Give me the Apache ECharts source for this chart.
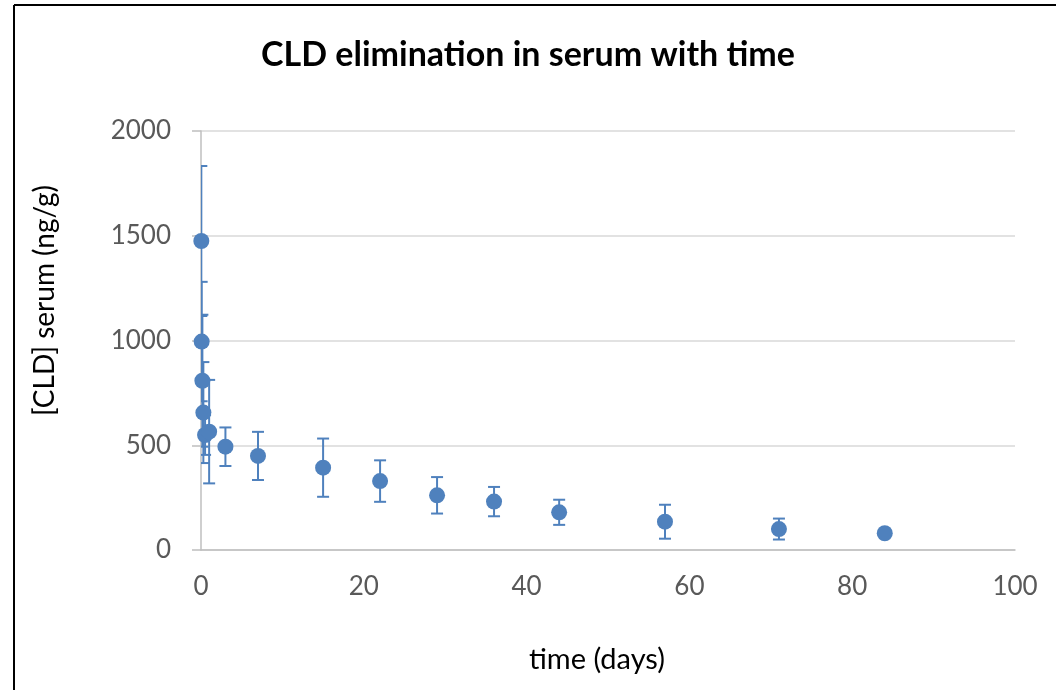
<!DOCTYPE html>
<html>
<head>
<meta charset="utf-8">
<script src="https://cdn.jsdelivr.net/npm/echarts@6/dist/echarts.min.js"></script>
<style>
    html, body { margin: 0; padding: 0; background: #fff; }
    #chart { width: 1056px; height: 690px; }
</style>
</head>
<body>
<div id="chart"></div>
<script>
// sampling time (days) / mean serum CLD (ng/g) / standard deviation
const days = [0.04, 0.08, 0.17, 0.29, 0.5, 1, 3, 7, 15, 22, 29, 36, 44, 57, 71, 84]
const meanCLD = [1475, 995, 808, 656, 549, 565, 493, 449, 393, 329, 261, 231, 180, 135, 100, 80]
const sdCLD = [358, 285, 315, 241, 95, 247, 92, 115, 139, 99, 87, 70, 60, 81, 50, 0]
const xTicks = [0, 20, 40, 60, 80, 100]
const yTicks = [0, 500, 1000, 1500, 2000]

const chartDom = document.querySelector('#chart')
const myChart = echarts.init(chartDom)

const blue = '#4f81bd'
const font = 'Lato, "Open Sans", sans-serif'

const points = days.map((d, i) => [d, meanCLD[i]])
const bars = days.map((d, i) => [d, meanCLD[i] - sdCLD[i], meanCLD[i] + sdCLD[i]])

function renderErrorBar(params, api) {
    const x = api.value(0)
    const lo = api.coord([x, api.value(1)])
    const hi = api.coord([x, api.value(2)])
    const half = 6
    const style = { stroke: blue, lineWidth: 2 }
    return {
        type: 'group',
        children: [
            { type: 'line', shape: { x1: lo[0], y1: lo[1], x2: hi[0], y2: hi[1] }, style: style },
            { type: 'line', shape: { x1: lo[0] - half, y1: lo[1], x2: lo[0] + half, y2: lo[1] }, style: style },
            { type: 'line', shape: { x1: hi[0] - half, y1: hi[1], x2: hi[0] + half, y2: hi[1] }, style: style },
        ],
    }
}

const option = {
    backgroundColor: '#fff',
    animation: false,
    title: {
        text: 'CLD elimination in serum with time',
        left: 'center',
        top: 33,
        textStyle: { fontFamily: font, fontSize: 34, fontWeight: 'bold', color: '#000' },
    },
    graphic: [
        { type: 'line', shape: { x1: 14, y1: 5, x2: 1056, y2: 5 }, style: { stroke: '#000', lineWidth: 2 } },
        { type: 'line', shape: { x1: 14, y1: 5, x2: 14, y2: 690 }, style: { stroke: '#000', lineWidth: 2 } },
    ],
    grid: { left: 201, right: 41, top: 131, bottom: 140, containLabel: false },
    xAxis: {
        type: 'value',
        min: xTicks[0],
        max: xTicks[xTicks.length - 1],
        interval: 20,
        name: 'time (days)',
        nameLocation: 'middle',
        nameGap: 95,
        nameTextStyle: { fontFamily: font, fontSize: 29, color: '#000', padding: [0, 22, 0, 0] },
        axisLine: { show: true, lineStyle: { color: '#bfbfbf', width: 1.5 } },
        axisTick: { show: false },
        axisLabel: { margin: 24, fontFamily: font, fontSize: 26, color: '#595959' },
        splitLine: { show: false },
    },
    yAxis: {
        type: 'value',
        min: yTicks[0],
        max: yTicks[yTicks.length - 1],
        interval: 500,
        name: '[CLD] serum (ng/g)',
        nameLocation: 'middle',
        nameGap: 142,
        nameTextStyle: { fontFamily: font, fontSize: 28, color: '#000', padding: [0, 0, 0, 80] },
        axisLine: { show: true, lineStyle: { color: '#bfbfbf', width: 1.5 } },
        axisTick: { show: true, inside: false, length: 9, lineStyle: { color: '#bfbfbf', width: 1.5 } },
        axisLabel: {
            margin: 30,
            fontFamily: font,
            fontSize: 26,
            color: '#595959',
            formatter: (v) => String(v),
        },
        splitLine: { show: true, lineStyle: { color: '#d9d9d9', width: 1.5 } },
    },
    series: [
        {
            type: 'custom',
            renderItem: renderErrorBar,
            clip: true,
            encode: { x: 0, y: [1, 2] },
            data: bars,
            z: 2,
        },
        {
            type: 'scatter',
            symbol: 'circle',
            symbolSize: 16,
            itemStyle: { color: blue, opacity: 1 },
            data: points,
            z: 3,
        },
    ],
}
myChart.setOption(option)
</script>
</body>
</html>
